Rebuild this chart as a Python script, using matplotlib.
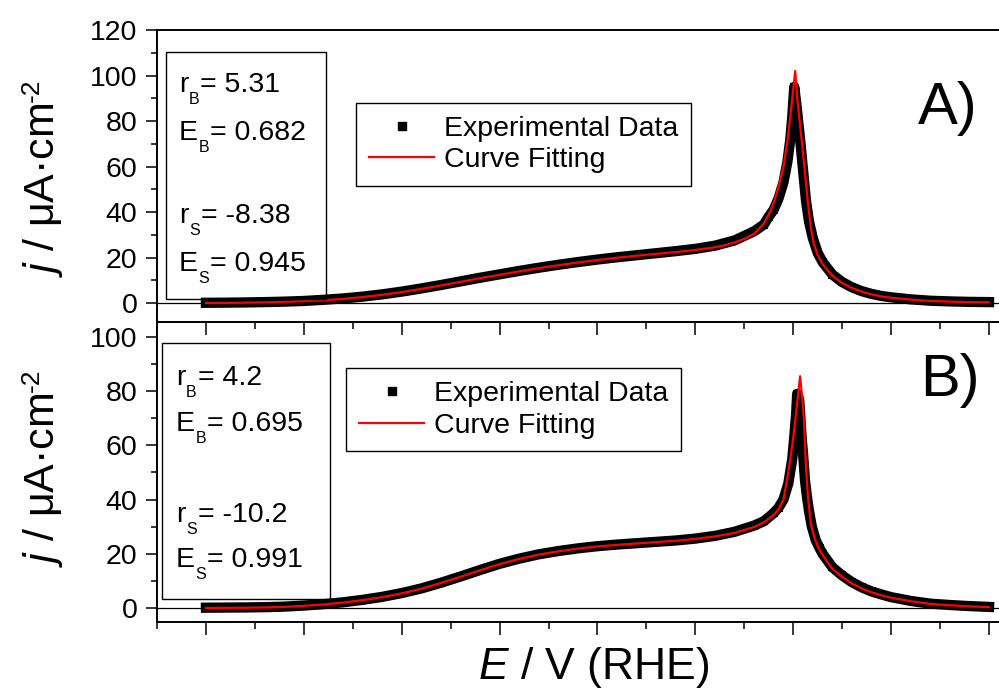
import matplotlib
matplotlib.use("Agg")
import matplotlib.pyplot as plt
from matplotlib.ticker import MultipleLocator
from matplotlib.patches import Rectangle
from matplotlib.lines import Line2D

plt.rcParams["font.family"] = ["Liberation Sans", "DejaVu Sans"]
plt.rcParams["mathtext.fontset"] = "custom"
plt.rcParams["mathtext.rm"] = "Liberation Sans"
plt.rcParams["mathtext.it"] = "Liberation Sans:italic"
plt.rcParams["mathtext.bf"] = "Liberation Sans:bold"

# ---- panel A: experimental voltammogram and fit ----
E_exp_A = [0.10, 0.12, 0.14, 0.16, 0.18, 0.20, 0.22, 0.24, 0.26, 0.28, 0.30, 0.32, 0.34,
           0.36, 0.38, 0.40, 0.42, 0.44, 0.46, 0.48, 0.50, 0.52, 0.54, 0.56, 0.58, 0.60,
           0.62, 0.64, 0.66, 0.67, 0.675, 0.68, 0.685, 0.69, 0.694, 0.697, 0.699, 0.701,
           0.703, 0.705, 0.707, 0.709, 0.711, 0.713, 0.716, 0.72, 0.725, 0.73, 0.74, 0.75,
           0.76, 0.77, 0.78, 0.79, 0.80, 0.82, 0.84, 0.86, 0.88, 0.90]
j_exp_A = [0.1, 0.15, 0.25, 0.4, 0.6, 0.9, 1.4, 2.0, 2.8, 3.8, 5.0, 6.4, 7.9,
           9.5, 11.1, 12.6, 14.1, 15.5, 16.8, 18.0, 19.1, 20.1, 21.0, 21.9, 22.8, 23.8,
           25.2, 27.5, 31.5, 34.5, 38, 41, 46, 53, 62, 72, 82, 95,
           88, 80, 72, 63, 54, 45, 36, 28.5, 22, 18, 12.5, 9.2,
           6.9, 5.2, 4.0, 3.1, 2.5, 1.6, 1.0, 0.7, 0.5, 0.4]

E_fit_A = [0.10, 0.12, 0.14, 0.16, 0.18, 0.20, 0.22, 0.24, 0.26, 0.28, 0.30, 0.32, 0.34,
           0.36, 0.38, 0.40, 0.42, 0.44, 0.46, 0.48, 0.50, 0.52, 0.54, 0.56, 0.58, 0.60,
           0.62, 0.63, 0.64, 0.65, 0.66, 0.67, 0.675, 0.68, 0.685, 0.69, 0.694, 0.697,
           0.700, 0.702, 0.704, 0.706, 0.709, 0.712, 0.715, 0.718, 0.721, 0.725, 0.73,
           0.74, 0.75, 0.76, 0.77, 0.78, 0.79, 0.80, 0.82, 0.84, 0.86, 0.88, 0.90]
j_fit_A = [0.0, 0.05, 0.15, 0.3, 0.5, 0.8, 1.2, 1.8, 2.6, 3.6, 4.8, 6.2, 7.7,
           9.3, 10.9, 12.4, 13.9, 15.3, 16.6, 17.8, 18.9, 19.9, 20.8, 21.6, 22.4, 23.3,
           24.5, 25.4, 26.6, 28.2, 30.4, 35, 39, 44, 51, 60, 71, 82,
           94, 102, 90, 82, 70, 57, 44, 33, 26, 21, 17,
           12, 8.8, 6.6, 5.0, 3.8, 2.9, 2.3, 1.5, 0.9, 0.6, 0.4, 0.3]

# ---- panel B ----
E_exp_B = [0.10, 0.12, 0.14, 0.16, 0.18, 0.20, 0.22, 0.24, 0.26, 0.28, 0.30, 0.32, 0.34,
           0.36, 0.38, 0.40, 0.42, 0.44, 0.46, 0.48, 0.50, 0.52, 0.54, 0.56, 0.58, 0.60,
           0.62, 0.64, 0.66, 0.67, 0.68, 0.685, 0.69, 0.695, 0.699, 0.701, 0.703, 0.704,
           0.706, 0.707, 0.708, 0.709, 0.710, 0.711, 0.712, 0.714, 0.716, 0.719, 0.723,
           0.727, 0.73, 0.74, 0.75, 0.76, 0.77, 0.78, 0.79, 0.80, 0.82, 0.84, 0.86, 0.88,
           0.90]
j_exp_B = [0.1, 0.15, 0.2, 0.3, 0.5, 0.9, 1.4, 2.1, 3.0, 4.1, 5.5, 7.2, 9.3,
           11.6, 14.0, 16.3, 18.2, 19.8, 21.0, 22.0, 22.8, 23.4, 23.9, 24.4, 24.9, 25.6,
           26.6, 28.1, 30.4, 32, 35, 37, 40, 46, 55, 63, 72, 79,
           77, 72, 66, 61, 57, 52, 47, 41, 36, 30, 25,
           22, 20, 15, 12, 9.5, 7.6, 6.1, 5.0, 4.0, 2.6, 1.6, 1.1, 0.7,
           0.4]

E_fit_B = [0.10, 0.12, 0.14, 0.16, 0.18, 0.20, 0.22, 0.24, 0.26, 0.28, 0.30, 0.32, 0.34,
           0.36, 0.38, 0.40, 0.42, 0.44, 0.46, 0.48, 0.50, 0.52, 0.54, 0.56, 0.58, 0.60,
           0.62, 0.64, 0.66, 0.67, 0.68, 0.685, 0.69, 0.695, 0.699, 0.702, 0.705, 0.707,
           0.709, 0.711, 0.713, 0.715, 0.718, 0.722, 0.726, 0.73, 0.74, 0.75, 0.76, 0.77,
           0.78, 0.79, 0.80, 0.82, 0.84, 0.86, 0.88, 0.90]
j_fit_B = [0.0, 0.05, 0.1, 0.2, 0.4, 0.8, 1.3, 2.0, 2.9, 4.0, 5.4, 7.1, 9.2,
           11.5, 13.9, 16.2, 18.1, 19.7, 20.9, 21.9, 22.7, 23.3, 23.8, 24.3, 24.8, 25.5,
           26.4, 27.7, 29.9, 31.6, 34.3, 36.5, 40, 50, 60, 69, 79, 85.5,
           78, 69, 52, 41, 31, 25.5, 22, 19.5, 14.5, 11.5, 9.0, 7.2,
           5.8, 4.7, 3.8, 2.5, 1.5, 1.0, 0.6, 0.3]

params_A = [("r", "B", "5.31"), ("E", "B", "0.682"), ("r", "S", "-8.38"), ("E", "S", "0.945")]
params_B = [("r", "B", "4.2"), ("E", "B", "0.695"), ("r", "S", "-10.2"), ("E", "S", "0.991")]
legend_labels = ["Experimental Data", "Curve Fitting"]

W, H = 999, 693


def fx(x):
    return x / W


def fy(y):
    return 1 - y / H


fig = plt.figure(figsize=(W / 100, H / 100), dpi=100)
renderer = fig.canvas.get_renderer()
left, right = 157, 1008.6
ax1 = fig.add_axes([fx(left), fy(322), (right - left) / W, (322 - 30) / H])
ax2 = fig.add_axes([fx(left), fy(622), (right - left) / W, (622 - 322) / H])
ax1.set_zorder(3)

TS = 20.5
for ax, Ee, je, Ef, jf, ylim in [
    (ax1, E_exp_A, j_exp_A, E_fit_A, j_fit_A, (-8.35, 120)),
    (ax2, E_exp_B, j_exp_B, E_fit_B, j_fit_B, (-5.17, 105.5)),
]:
    ax.axhline(0, color="black", lw=0.9, zorder=1)
    ax.plot(Ee, je, "-s", color="black", lw=7.4, ms=6.0, mew=0,
            solid_capstyle="projecting", solid_joinstyle="round", zorder=2)
    ax.plot(Ef, jf, "-", color="#ff0000", lw=1.6, zorder=3)
    ax.set_xlim(0.05, 0.92)
    ax.set_ylim(*ylim)
    ax.yaxis.set_major_locator(MultipleLocator(20))
    ax.yaxis.set_minor_locator(MultipleLocator(10))
    ax.xaxis.set_major_locator(MultipleLocator(0.1))
    ax.xaxis.set_minor_locator(MultipleLocator(0.05))
    ax.tick_params(axis="y", which="major", direction="out", length=8, width=1.1,
                   labelsize=TS, pad=6, right=False)
    ax.tick_params(axis="y", which="minor", direction="out", length=4, width=1.1,
                   right=False)
    ax.tick_params(axis="x", which="major", direction="out", length=9, width=1.1,
                   labelbottom=False, top=False)
    ax.tick_params(axis="x", which="minor", direction="out", length=5, width=1.1,
                   top=False)
    for s in ax.spines.values():
        s.set_linewidth(1.4)

# parameter boxes
for (x0, y0, x1, y1) in [(166, 52, 326, 299), (162, 343, 330, 599)]:
    fig.add_artist(Rectangle((fx(x0), fy(y1)), (x1 - x0) / W, (y1 - y0) / H,
                             transform=fig.transFigure, fill=False, ec="black",
                             lw=1.0, zorder=5))

# fitted parameters: symbol, lowered subscript, value
SUB = 11.5
for params, xl, baselines in [(params_A, 179, [92, 140, 223, 271]),
                              (params_B, 176, [385, 431, 522, 567])]:
    for (sym, sub, val), yb in zip(params, baselines):
        t1 = fig.text(fx(xl), fy(yb), sym, fontsize=TS, ha="left", va="baseline")
        b1 = t1.get_window_extent(renderer)
        t2 = fig.text((b1.x1 + 0.5) / W, fy(yb + 12), sub, fontsize=SUB,
                      ha="left", va="baseline")
        b2 = t2.get_window_extent(renderer)
        fig.text((b2.x1 + 1) / W, fy(yb), "= " + val, fontsize=TS,
                 ha="left", va="baseline")

# legends
handles = [Line2D([], [], ls="none", marker="s", color="black", ms=6),
           Line2D([], [], color="#ff0000", lw=1.6)]
for ax, (lx, ly) in [(ax1, (356, 102.7)), (ax2, (346, 368))]:
    leg = ax.legend(handles, legend_labels, loc="upper left",
                    bbox_to_anchor=(fx(lx), fy(ly)), bbox_transform=fig.transFigure,
                    fancybox=False, edgecolor="black", framealpha=1, fontsize=TS,
                    handlelength=2.3, handletextpad=0.35, borderpad=0.45,
                    labelspacing=0.2, borderaxespad=0, numpoints=1)
    leg.get_frame().set_linewidth(1.0)

# panel tags
fig.text(fx(948), fy(108), "A)", fontsize=43, ha="center", va="center")
fig.text(fx(950), fy(380), "B)", fontsize=43, ha="center", va="center")

# axis labels (y label with a raised "-2")
for yc in (190, 480):
    t = fig.text(fx(43), fy(yc), r"$j$ / μA·cm", rotation=90, fontsize=31,
                 ha="center", va="center")
    bb = t.get_window_extent(renderer)
    fig.text((bb.x0 - 1) / W, (bb.y1 + 1) / H, "-2", rotation=90, fontsize=19,
             ha="left", va="bottom")
fig.text(fx(594), fy(668), r"$E$ / V (RHE)", fontsize=32, ha="center", va="center")

fig.savefig("out.png", dpi=100)
